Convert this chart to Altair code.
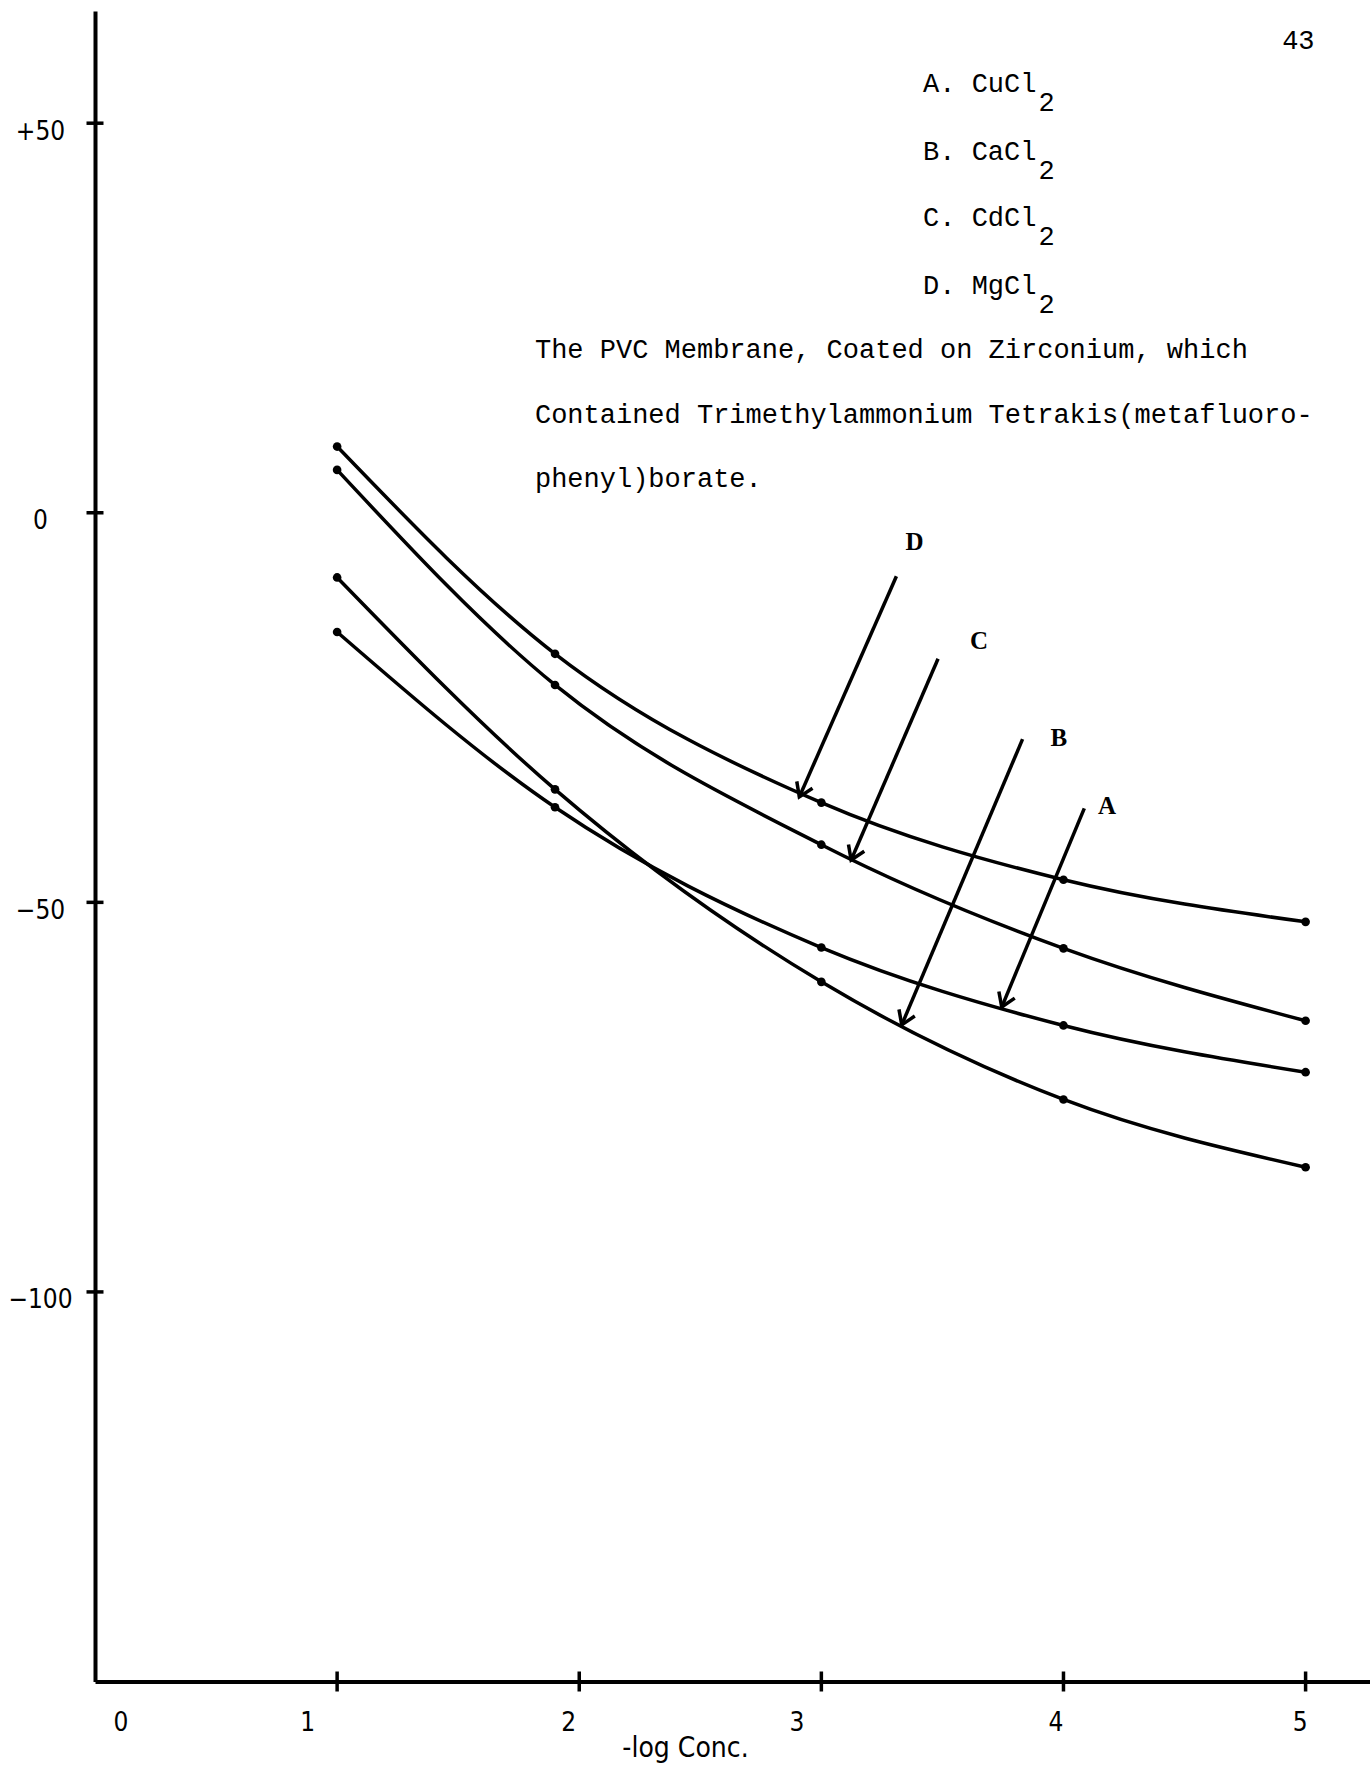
import math

import altair as alt
import pandas as pd

# -log concentration of the test solutions
log_conc = [1.0, 1.9, 3.0, 4.0, 5.0]

# electrode potential (mV) for each salt
cucl2 = [-15.3, -37.8, -55.8, -65.8, -71.8]   # A
cacl2 = [-8.3, -35.5, -60.2, -75.3, -84.0]    # B
cdcl2 = [5.5, -22.1, -42.6, -55.9, -65.2]     # C
mgcl2 = [8.5, -18.1, -37.2, -47.1, -52.5]     # D

series_names = ["A", "B", "C", "D"]
series_values = [cucl2, cacl2, cdcl2, mgcl2]

# axis ticks and labels
x_ticks = [1, 2, 3, 4, 5]
x_labels = [0, 1, 2, 3, 4, 5]
y_ticks = [50, 0, -50, -100]

# legend key
legend_letters = ["A.", "B.", "C.", "D."]
legend_salts = ["CuCl", "CaCl", "CdCl", "MgCl"]
legend_y = [55.0, 46.3, 37.8, 29.1]
legend_x = 3.42

# caption under the key
caption_lines = [
    "The PVC Membrane, Coated on Zirconium, which",
    "Contained Trimethylammonium Tetrakis(metafluoro-",
    "phenyl)borate.",
]
caption_y = [20.9, 12.6, 4.36]
caption_x = 1.817

# arrows pointing at each curve (start -> tip, data units) and their letters
arrow_names = ["D", "C", "B", "A"]
arrow_x0 = [3.310, 3.482, 3.831, 4.086]
arrow_y0 = [-8.14, -18.74, -29.05, -37.93]
arrow_x1 = [2.909, 3.123, 3.332, 3.745]
arrow_y1 = [-36.47, -44.57, -65.73, -63.44]
letter_x = [3.385, 3.651, 3.981, 4.180]
letter_y = [-3.8, -16.4, -28.9, -37.65]

page_number = "43"
page_x, page_y = 4.97, 60.5

# ---------------------------------------------------------------- layout
X_MIN, X_MAX = 0.0, 5.266
Y_MIN, Y_MAX = -150.0, 64.4
W, H = 1275, 1670.5

TYPE_FONT = "Liberation Mono"
AXIS_FONT = "Liberation Sans Narrow, DejaVu Sans Condensed, Liberation Sans"

xs = alt.Scale(domain=[X_MIN, X_MAX], nice=False, zero=False)
ys = alt.Scale(domain=[Y_MIN, Y_MAX], nice=False, zero=False)

rows = []
for name, vals in zip(series_names, series_values):
    for xv, yv in zip(log_conc, vals):
        rows.append({"series": name, "x": xv, "y": yv})
curves_df = pd.DataFrame(rows)

x_offset_expr = (
    "datum.value == 0 ? 18 : datum.value == 1 ? -30 : datum.value == 2 ? -11 : "
    "datum.value == 3 ? -25 : datum.value == 4 ? -8 : -6"
)

base = alt.Chart(curves_df)

curves = base.mark_line(
    interpolate="monotone", color="black", strokeWidth=3.5
).encode(
    x=alt.X(
        "x:Q",
        scale=xs,
        axis=alt.Axis(
            values=x_labels,
            format="d",
            ticks=False,
            grid=False,
            domainColor="black",
            domainWidth=4,
            labelFont=AXIS_FONT,
            labelFontSize=26,
            labelColor="black",
            labelBaseline="middle",
            labelPadding=41,
            labelOffset={"expr": x_offset_expr},
            title="-log Conc.",
            titleFont=AXIS_FONT,
            titleFontSize=28,
            titleFontWeight="normal",
            titleColor="black",
            titleX=590,
            titleY=67,
            titleBaseline="middle",
            titleAlign="center",
        ),
    ),
    y=alt.Y(
        "y:Q",
        scale=ys,
        axis=alt.Axis(
            values=y_ticks,
            ticks=False,
            grid=False,
            domainColor="black",
            domainWidth=4,
            labelFont=AXIS_FONT,
            labelFontSize=26,
            labelColor="black",
            labelAlign="center",
            labelBaseline="middle",
            labelPadding=55,
            labelOffset=8,
            labelExpr="datum.value > 0 ? '+' + datum.label : datum.label",
            title=None,
        ),
    ),
    detail="series:N",
)

points = base.mark_circle(color="black", opacity=1, size=75).encode(
    x=alt.X("x:Q", scale=xs), y=alt.Y("y:Q", scale=ys)
)

# tick marks crossing the axis lines
xt_df = pd.DataFrame({"x": x_ticks, "y": [Y_MIN] * len(x_ticks)})
x_tick_marks = alt.Chart(xt_df).mark_tick(
    orient="vertical", size=20, thickness=3.5, color="black", opacity=1
).encode(x=alt.X("x:Q", scale=xs), y=alt.Y("y:Q", scale=ys))

yt_df = pd.DataFrame({"x": [X_MIN] * len(y_ticks), "y": y_ticks})
y_tick_marks = alt.Chart(yt_df).mark_tick(
    orient="horizontal", size=17, thickness=3.5, color="black", opacity=1
).encode(x=alt.X("x:Q", scale=xs), y=alt.Y("y:Q", scale=ys))

# arrows
px_per_x = W / (X_MAX - X_MIN)
px_per_y = H / (Y_MAX - Y_MIN)
angles = []
for a, b, c, d in zip(arrow_x0, arrow_y0, arrow_x1, arrow_y1):
    dx = (c - a) * px_per_x
    dy = -(d - b) * px_per_y
    angles.append(math.degrees(math.atan2(-dx, dy)) % 360)

arrows_df = pd.DataFrame(
    {
        "name": arrow_names,
        "x0": arrow_x0,
        "y0": arrow_y0,
        "x1": arrow_x1,
        "y1": arrow_y1,
        "angle": angles,
        "lx": letter_x,
        "ly": letter_y,
    }
)
arrow_base = alt.Chart(arrows_df)
shafts = arrow_base.mark_rule(color="black", strokeWidth=3.5).encode(
    x=alt.X("x0:Q", scale=xs),
    y=alt.Y("y0:Q", scale=ys),
    x2="x1:Q",
    y2="y1:Q",
)
heads = arrow_base.mark_point(
    shape="M-0.65,-1L0,0L0.65,-1",
    filled=False,
    color="black",
    strokeWidth=3.5,
    size=700,
    opacity=1,
).encode(
    x=alt.X("x1:Q", scale=xs),
    y=alt.Y("y1:Q", scale=ys),
    angle=alt.Angle("angle:Q", scale=None),
)
letters = arrow_base.mark_text(
    font="Liberation Serif", fontSize=25, fontWeight="bold", color="black",
    align="center", baseline="middle",
).encode(x=alt.X("lx:Q", scale=xs), y=alt.Y("ly:Q", scale=ys), text="name:N")

# legend key with subscripts
key_df = pd.DataFrame(
    {
        "label": [f"{l} {s}" for l, s in zip(legend_letters, legend_salts)],
        "x": [legend_x] * 4,
        "y": legend_y,
        "sub": ["2"] * 4,
    }
)
key_text = alt.Chart(key_df).mark_text(
    font=TYPE_FONT, fontSize=27, color="black", align="left", baseline="middle"
).encode(x=alt.X("x:Q", scale=xs), y=alt.Y("y:Q", scale=ys), text="label:N")
key_sub = alt.Chart(key_df).mark_text(
    font=TYPE_FONT, fontSize=27, color="black", align="left", baseline="middle",
    dx=7 * 0.6 * 27 + 2, dy=19,
).encode(x=alt.X("x:Q", scale=xs), y=alt.Y("y:Q", scale=ys), text="sub:N")

cap_df = pd.DataFrame({"text": caption_lines, "x": [caption_x] * 3, "y": caption_y})
caption = alt.Chart(cap_df).mark_text(
    font=TYPE_FONT, fontSize=27, color="black", align="left", baseline="middle"
).encode(x=alt.X("x:Q", scale=xs), y=alt.Y("y:Q", scale=ys), text="text:N")

page_df = pd.DataFrame({"text": [page_number], "x": [page_x], "y": [page_y]})
page = alt.Chart(page_df).mark_text(
    font=TYPE_FONT, fontSize=27, color="black", align="center", baseline="middle"
).encode(x=alt.X("x:Q", scale=xs), y=alt.Y("y:Q", scale=ys), text="text:N")

chart = (
    alt.layer(
        curves, points, x_tick_marks, y_tick_marks, shafts, heads, letters,
        key_text, key_sub, caption, page,
    )
    .properties(
        width=W,
        height=H,
        autosize="none",
        padding={"left": 95, "top": 11, "right": 0, "bottom": 88.5},
        background="white",
    )
    .configure_view(stroke=None)
)

chart.save("out.html", embed_options={"renderer": "svg", "actions": False})
